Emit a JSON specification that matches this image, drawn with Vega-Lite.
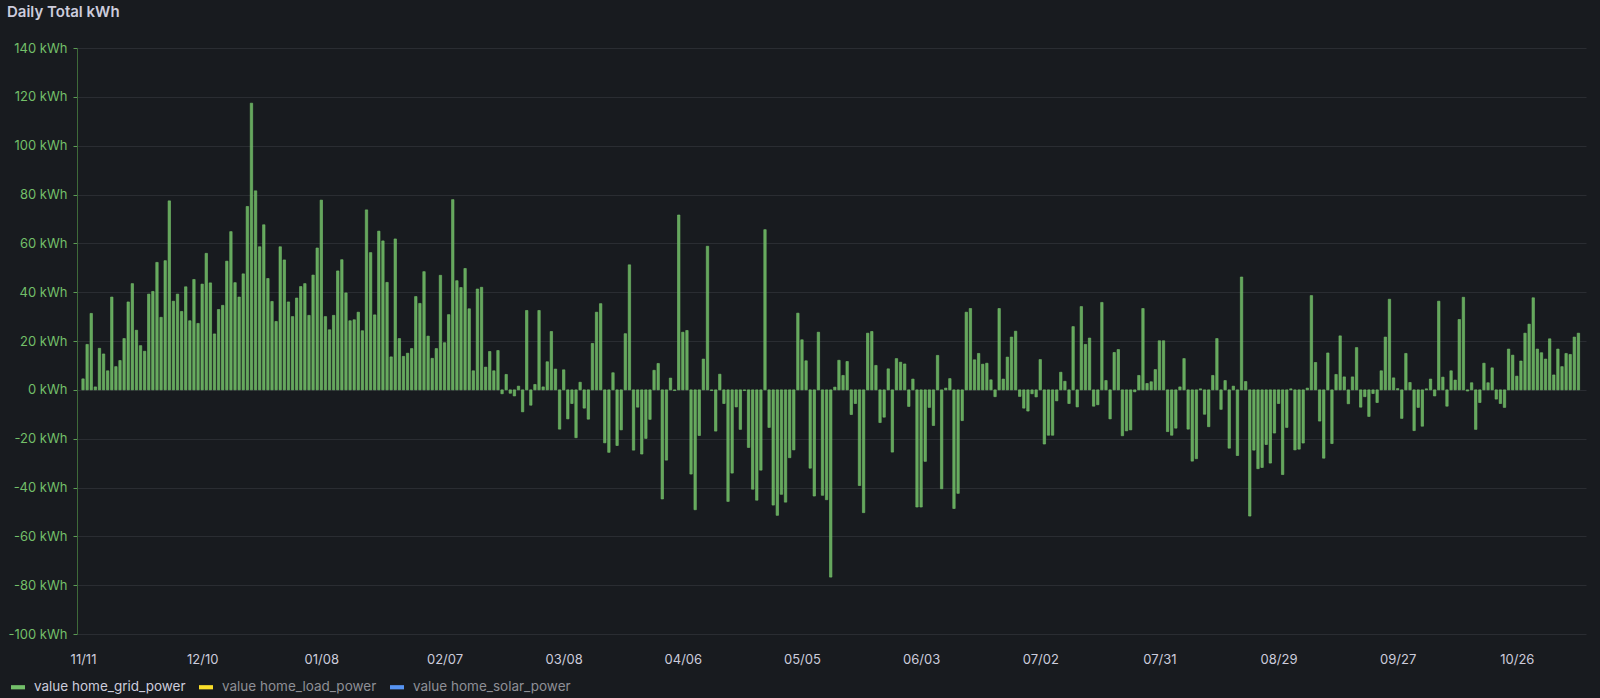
{
  "$schema": "https://vega.github.io/schema/vega-lite/v6.json",
  "width": 1509,
  "height": 586,
  "autosize": {"type": "none"},
  "padding": {"left": 77, "top": 48, "right": 14, "bottom": 64},
  "background": "#181b1f",
  "title": {"text": "Daily Total kWh", "anchor": "start", "frame": "group", "dx": -70, "offset": 22, "font": "Inter", "fontSize": 15, "fontWeight": 600, "color": "#ccccdc"},
  "config": {"view": {"stroke": null}},
  "data": {"values": [
    {"t":"2024-11-11","v":4.5},{"t":"2024-11-12","v":18.6},{"t":"2024-11-13","v":31.3},{"t":"2024-11-14","v":1.2},{"t":"2024-11-15","v":17},{"t":"2024-11-16","v":14.7},{"t":"2024-11-17","v":7.8},{"t":"2024-11-18","v":38},{"t":"2024-11-19","v":9.5},{"t":"2024-11-20","v":12},
    {"t":"2024-11-21","v":21},{"t":"2024-11-22","v":36},{"t":"2024-11-23","v":43.5},{"t":"2024-11-24","v":24.4},{"t":"2024-11-25","v":18.1},{"t":"2024-11-26","v":15.8},{"t":"2024-11-27","v":39.2},{"t":"2024-11-28","v":40.3},{"t":"2024-11-29","v":52.2},{"t":"2024-11-30","v":29.7},
    {"t":"2024-12-01","v":52.9},{"t":"2024-12-02","v":77.4},{"t":"2024-12-03","v":36.3},{"t":"2024-12-04","v":39.2},{"t":"2024-12-05","v":32.1},{"t":"2024-12-06","v":42.2},{"t":"2024-12-07","v":28.3},{"t":"2024-12-08","v":45.2},{"t":"2024-12-09","v":27.2},{"t":"2024-12-10","v":43.3},
    {"t":"2024-12-11","v":55.9},{"t":"2024-12-12","v":43.8},{"t":"2024-12-13","v":22.9},{"t":"2024-12-14","v":32.9},{"t":"2024-12-15","v":34.6},{"t":"2024-12-16","v":52.7},{"t":"2024-12-17","v":64.8},{"t":"2024-12-18","v":43.9},{"t":"2024-12-19","v":38},{"t":"2024-12-20","v":47.5},
    {"t":"2024-12-21","v":75.1},{"t":"2024-12-22","v":117.4},{"t":"2024-12-23","v":81.5},{"t":"2024-12-24","v":58.6},{"t":"2024-12-25","v":67.6},{"t":"2024-12-26","v":45.6},{"t":"2024-12-27","v":36.2},{"t":"2024-12-28","v":28},{"t":"2024-12-29","v":58.6},{"t":"2024-12-30","v":53.2},{"t":"2024-12-31","v":36},
    {"t":"2025-01-01","v":30},{"t":"2025-01-02","v":37.6},{"t":"2025-01-03","v":42.3},{"t":"2025-01-04","v":43.5},{"t":"2025-01-05","v":30.5},{"t":"2025-01-06","v":47},{"t":"2025-01-07","v":58.1},{"t":"2025-01-08","v":77.7},{"t":"2025-01-09","v":30},{"t":"2025-01-10","v":24.6},
    {"t":"2025-01-11","v":30.5},{"t":"2025-01-12","v":48.7},{"t":"2025-01-13","v":53.3},{"t":"2025-01-14","v":39.7},{"t":"2025-01-15","v":28.3},{"t":"2025-01-16","v":28.7},{"t":"2025-01-17","v":31.8},{"t":"2025-01-18","v":24.2},{"t":"2025-01-19","v":73.7},{"t":"2025-01-20","v":56.2},
    {"t":"2025-01-21","v":30.7},{"t":"2025-01-22","v":65},{"t":"2025-01-23","v":61},{"t":"2025-01-24","v":44},{"t":"2025-01-25","v":13.5},{"t":"2025-01-26","v":61.8},{"t":"2025-01-27","v":21},{"t":"2025-01-28","v":13.7},{"t":"2025-01-29","v":15},{"t":"2025-01-30","v":16.9},{"t":"2025-01-31","v":38.2},
    {"t":"2025-02-01","v":35.4},{"t":"2025-02-02","v":48.4},{"t":"2025-02-03","v":22},{"t":"2025-02-04","v":12.9},{"t":"2025-02-05","v":16.9},{"t":"2025-02-06","v":46.9},{"t":"2025-02-07","v":19.3},{"t":"2025-02-08","v":30.8},{"t":"2025-02-09","v":77.9},{"t":"2025-02-10","v":44.7},
    {"t":"2025-02-11","v":41.9},{"t":"2025-02-12","v":49.7},{"t":"2025-02-13","v":33.2},{"t":"2025-02-14","v":7.8},{"t":"2025-02-15","v":41.3},{"t":"2025-02-16","v":42},{"t":"2025-02-17","v":9.3},{"t":"2025-02-18","v":15.7},{"t":"2025-02-19","v":7.8},{"t":"2025-02-20","v":16.1},
    {"t":"2025-02-21","v":-1.6},{"t":"2025-02-22","v":6.3},{"t":"2025-02-23","v":-1.4},{"t":"2025-02-24","v":-2.5},{"t":"2025-02-25","v":1.5},{"t":"2025-02-26","v":-9},{"t":"2025-02-27","v":32.5},{"t":"2025-02-28","v":-6.3},
    {"t":"2025-03-01","v":2.2},{"t":"2025-03-02","v":32.5},{"t":"2025-03-03","v":1.2},{"t":"2025-03-04","v":11.5},{"t":"2025-03-05","v":23.9},{"t":"2025-03-06","v":8.5},{"t":"2025-03-07","v":-16.1},{"t":"2025-03-08","v":8.2},{"t":"2025-03-09","v":-11.9},{"t":"2025-03-10","v":-5.6},
    {"t":"2025-03-11","v":-19.6},{"t":"2025-03-12","v":3.1},{"t":"2025-03-13","v":-7.5},{"t":"2025-03-14","v":-12},{"t":"2025-03-15","v":19},{"t":"2025-03-16","v":31.8},{"t":"2025-03-17","v":35.3},{"t":"2025-03-18","v":-21.7},{"t":"2025-03-19","v":-25.6},{"t":"2025-03-20","v":7},
    {"t":"2025-03-21","v":-22.8},{"t":"2025-03-22","v":-16.4},{"t":"2025-03-23","v":23},{"t":"2025-03-24","v":51.2},{"t":"2025-03-25","v":-24.7},{"t":"2025-03-26","v":-7.1},{"t":"2025-03-27","v":-26.3},{"t":"2025-03-28","v":-19.9},{"t":"2025-03-29","v":-12.1},{"t":"2025-03-30","v":8},{"t":"2025-03-31","v":10.8},
    {"t":"2025-04-01","v":-44.7},{"t":"2025-04-02","v":-28.8},{"t":"2025-04-03","v":4.8},{"t":"2025-04-04","v":-0.3},{"t":"2025-04-05","v":71.6},{"t":"2025-04-06","v":23.6},{"t":"2025-04-07","v":24.3},{"t":"2025-04-08","v":-34.5},{"t":"2025-04-09","v":-49.1},{"t":"2025-04-10","v":-18.7},
    {"t":"2025-04-11","v":12.6},{"t":"2025-04-12","v":58.8},{"t":"2025-04-13","v":-0.3},{"t":"2025-04-14","v":-16.9},{"t":"2025-04-15","v":6.4},{"t":"2025-04-16","v":-5.6},{"t":"2025-04-17","v":-45.7},{"t":"2025-04-18","v":-34.1},{"t":"2025-04-19","v":-7},{"t":"2025-04-20","v":-16.2},
    {"t":"2025-04-21","v":-0.3},{"t":"2025-04-22","v":-23.6},{"t":"2025-04-23","v":-40.7},{"t":"2025-04-24","v":-45.2},{"t":"2025-04-25","v":-32.9},{"t":"2025-04-26","v":65.6},{"t":"2025-04-27","v":-15.4},{"t":"2025-04-28","v":-47.2},{"t":"2025-04-29","v":-51.4},{"t":"2025-04-30","v":-42.8},
    {"t":"2025-05-01","v":-46},{"t":"2025-05-02","v":-27.8},{"t":"2025-05-03","v":-24.6},{"t":"2025-05-04","v":31.4},{"t":"2025-05-05","v":20.5},{"t":"2025-05-06","v":11.9},{"t":"2025-05-07","v":-32.1},{"t":"2025-05-08","v":-43.5},{"t":"2025-05-09","v":23.6},{"t":"2025-05-10","v":-43.2},
    {"t":"2025-05-11","v":-45},{"t":"2025-05-12","v":-76.7},{"t":"2025-05-13","v":1.1},{"t":"2025-05-14","v":12.1},{"t":"2025-05-15","v":5.9},{"t":"2025-05-16","v":11.6},{"t":"2025-05-17","v":-10.1},{"t":"2025-05-18","v":-5.6},{"t":"2025-05-19","v":-39.2},{"t":"2025-05-20","v":-50.3},
    {"t":"2025-05-21","v":23.2},{"t":"2025-05-22","v":23.9},{"t":"2025-05-23","v":10},{"t":"2025-05-24","v":-13.4},{"t":"2025-05-25","v":-11.2},{"t":"2025-05-26","v":8.6},{"t":"2025-05-27","v":-25.5},{"t":"2025-05-28","v":12.8},{"t":"2025-05-29","v":11.3},{"t":"2025-05-30","v":10.6},{"t":"2025-05-31","v":-6.8},
    {"t":"2025-06-01","v":4.4},{"t":"2025-06-02","v":-48},{"t":"2025-06-03","v":-48},{"t":"2025-06-04","v":-29.3},{"t":"2025-06-05","v":-7.2},{"t":"2025-06-06","v":-14.6},{"t":"2025-06-07","v":14.1},{"t":"2025-06-08","v":-40.5},{"t":"2025-06-09","v":0.7},{"t":"2025-06-10","v":4.6},
    {"t":"2025-06-11","v":-48.6},{"t":"2025-06-12","v":-42.4},{"t":"2025-06-13","v":-12.6},{"t":"2025-06-14","v":31.8},{"t":"2025-06-15","v":33.3},{"t":"2025-06-16","v":12.3},{"t":"2025-06-17","v":14.9},{"t":"2025-06-18","v":10.5},{"t":"2025-06-19","v":10.9},{"t":"2025-06-20","v":4.1},
    {"t":"2025-06-21","v":-2.8},{"t":"2025-06-22","v":33.3},{"t":"2025-06-23","v":4.4},{"t":"2025-06-24","v":13.4},{"t":"2025-06-25","v":21.6},{"t":"2025-06-26","v":24},{"t":"2025-06-27","v":-2.7},{"t":"2025-06-28","v":-7.5},{"t":"2025-06-29","v":-8.7},{"t":"2025-06-30","v":-1.6},
    {"t":"2025-07-01","v":-2.9},{"t":"2025-07-02","v":12.4},{"t":"2025-07-03","v":-22.2},{"t":"2025-07-04","v":-18.6},{"t":"2025-07-05","v":-18.6},{"t":"2025-07-06","v":-4.5},{"t":"2025-07-07","v":7.2},{"t":"2025-07-08","v":3.5},{"t":"2025-07-09","v":-5.6},{"t":"2025-07-10","v":25.9},
    {"t":"2025-07-11","v":-7},{"t":"2025-07-12","v":34.1},{"t":"2025-07-13","v":18.6},{"t":"2025-07-14","v":21.2},{"t":"2025-07-15","v":-6.7},{"t":"2025-07-16","v":-6.1},{"t":"2025-07-17","v":35.8},{"t":"2025-07-18","v":3.8},{"t":"2025-07-19","v":-11.9},{"t":"2025-07-20","v":15.3},
    {"t":"2025-07-21","v":16.5},{"t":"2025-07-22","v":-18.8},{"t":"2025-07-23","v":-16.8},{"t":"2025-07-24","v":-16.4},{"t":"2025-07-25","v":-0.8},{"t":"2025-07-26","v":5.9},{"t":"2025-07-27","v":33.3},{"t":"2025-07-28","v":2.6},{"t":"2025-07-29","v":3.3},{"t":"2025-07-30","v":8.3},{"t":"2025-07-31","v":20.1},
    {"t":"2025-08-01","v":20.1},{"t":"2025-08-02","v":-17.1},{"t":"2025-08-03","v":-18.6},{"t":"2025-08-04","v":-15.7},{"t":"2025-08-05","v":1.2},{"t":"2025-08-06","v":12.8},{"t":"2025-08-07","v":-16.1},{"t":"2025-08-08","v":-29.2},{"t":"2025-08-09","v":-28.2},{"t":"2025-08-10","v":0.4},
    {"t":"2025-08-11","v":-10},{"t":"2025-08-12","v":-15.1},{"t":"2025-08-13","v":5.9},{"t":"2025-08-14","v":21},{"t":"2025-08-15","v":-8},{"t":"2025-08-16","v":3.8},{"t":"2025-08-17","v":-23.9},{"t":"2025-08-18","v":1.5},{"t":"2025-08-19","v":-26.9},{"t":"2025-08-20","v":46.2},
    {"t":"2025-08-21","v":3.4},{"t":"2025-08-22","v":-51.7},{"t":"2025-08-23","v":-24.7},{"t":"2025-08-24","v":-32.3},{"t":"2025-08-25","v":-31.8},{"t":"2025-08-26","v":-22.4},{"t":"2025-08-27","v":-30},{"t":"2025-08-28","v":-17.7},{"t":"2025-08-29","v":-5.6},{"t":"2025-08-30","v":-34.7},{"t":"2025-08-31","v":-15.4},
    {"t":"2025-09-01","v":0.4},{"t":"2025-09-02","v":-24.6},{"t":"2025-09-03","v":-24.3},{"t":"2025-09-04","v":-21.8},{"t":"2025-09-05","v":0.7},{"t":"2025-09-06","v":38.6},{"t":"2025-09-07","v":11.2},{"t":"2025-09-08","v":-12.8},{"t":"2025-09-09","v":-28},{"t":"2025-09-10","v":15.1},
    {"t":"2025-09-11","v":-22},{"t":"2025-09-12","v":6.3},{"t":"2025-09-13","v":22.1},{"t":"2025-09-14","v":5.3},{"t":"2025-09-15","v":-5.7},{"t":"2025-09-16","v":5.3},{"t":"2025-09-17","v":17.3},{"t":"2025-09-18","v":-7.1},{"t":"2025-09-19","v":-2.8},{"t":"2025-09-20","v":-10.9},
    {"t":"2025-09-21","v":-1.5},{"t":"2025-09-22","v":-5.2},{"t":"2025-09-23","v":7.8},{"t":"2025-09-24","v":21.6},{"t":"2025-09-25","v":37.1},{"t":"2025-09-26","v":4.9},{"t":"2025-09-27","v":0.5},{"t":"2025-09-28","v":-11.7},{"t":"2025-09-29","v":14.9},{"t":"2025-09-30","v":3},
    {"t":"2025-10-01","v":-16.7},{"t":"2025-10-02","v":-7.2},{"t":"2025-10-03","v":-14.9},{"t":"2025-10-04","v":0.4},{"t":"2025-10-05","v":4.4},{"t":"2025-10-06","v":-2.5},{"t":"2025-10-07","v":36.3},{"t":"2025-10-08","v":5.2},{"t":"2025-10-09","v":-6.7},{"t":"2025-10-10","v":7.8},
    {"t":"2025-10-11","v":4},{"t":"2025-10-12","v":28.8},{"t":"2025-10-13","v":37.9},{"t":"2025-10-14","v":-0.5},{"t":"2025-10-15","v":2.9},{"t":"2025-10-16","v":-16.2},{"t":"2025-10-17","v":-5.2},{"t":"2025-10-18","v":10.9},{"t":"2025-10-19","v":2.9},{"t":"2025-10-20","v":9},
    {"t":"2025-10-21","v":-3.8},{"t":"2025-10-22","v":-5.6},{"t":"2025-10-23","v":-7.2},{"t":"2025-10-24","v":16.7},{"t":"2025-10-25","v":14.2},{"t":"2025-10-26","v":5.6},{"t":"2025-10-27","v":11.8},{"t":"2025-10-28","v":23.2},{"t":"2025-10-29","v":26.9},{"t":"2025-10-30","v":37.7},{"t":"2025-10-31","v":16.7},
    {"t":"2025-11-01","v":15.2},{"t":"2025-11-02","v":12.6},{"t":"2025-11-03","v":20.9},{"t":"2025-11-04","v":6.1},{"t":"2025-11-05","v":16.7},{"t":"2025-11-06","v":9.5},{"t":"2025-11-07","v":14.9},{"t":"2025-11-08","v":14.5},{"t":"2025-11-09","v":21.6},{"t":"2025-11-10","v":23.2}
  ]},
  "mark": {"type": "bar", "width": 2.4, "fillOpacity": 0.85, "stroke": "#73bf69", "strokeWidth": 0.6},
  "encoding": {
    "x": {
      "field": "t", "type": "temporal",
      "scale": {"type": "utc", "domain": [{"year": 2024, "month": 11, "date": 10, "hours": 18, "utc": true}, {"year": 2025, "month": 11, "date": 10, "hours": 15, "utc": true}]},
      "axis": {
        "title": null, "grid": false, "domain": false, "ticks": false, "tickSize": 0, "labelPadding": 19,
        "format": "%m/%d", "labelFont": "Inter", "labelFontSize": 13, "labelColor": "#ccccdc", "labelFlush": false, "labelOverlap": false,
        "values": [
          {"year": 2024, "month": 11, "date": 11, "utc": true},
          {"year": 2024, "month": 12, "date": 10, "utc": true},
          {"year": 2025, "month": 1, "date": 8, "utc": true},
          {"year": 2025, "month": 2, "date": 7, "utc": true},
          {"year": 2025, "month": 3, "date": 8, "utc": true},
          {"year": 2025, "month": 4, "date": 6, "utc": true},
          {"year": 2025, "month": 5, "date": 5, "utc": true},
          {"year": 2025, "month": 6, "date": 3, "utc": true},
          {"year": 2025, "month": 7, "date": 2, "utc": true},
          {"year": 2025, "month": 7, "date": 31, "utc": true},
          {"year": 2025, "month": 8, "date": 29, "utc": true},
          {"year": 2025, "month": 9, "date": 27, "utc": true},
          {"year": 2025, "month": 10, "date": 26, "utc": true}
        ]
      }
    },
    "y": {
      "field": "v", "type": "quantitative",
      "scale": {"domain": [-100, 140], "nice": false},
      "axis": {
        "title": null, "values": [-100, -80, -60, -40, -20, 0, 20, 40, 60, 80, 100, 120, 140],
        "labelExpr": "datum.value + ' kWh'", "labelFont": "Inter", "labelFontSize": 13, "labelColor": "#73bf69",
        "tickSize": 4, "tickColor": "#5c9a55", "labelPadding": 6, "domainColor": "#3e6a39",
        "gridColor": "#2a2d32", "gridWidth": 1
      }
    },
    "color": {
      "datum": "value home_grid_power",
      "scale": {"domain": ["value home_grid_power", "value home_load_power", "value home_solar_power"], "range": ["#73bf69", "#fade2a", "#5794f2"]},
      "legend": {
        "title": null, "orient": "none", "legendX": -66, "legendY": 632, "direction": "horizontal",
        "symbolType": "M-1,-0.3L1,-0.3L1,0.3L-1,0.3Z", "symbolSize": 196, "symbolStrokeWidth": 0, "symbolOpacity": 1,
        "labelFont": "Inter", "labelFontSize": 13.5, "labelOffset": 9, "columnPadding": 13,
        "labelColor": {"expr": "datum.value === 'value home_grid_power' ? '#ccccdc' : '#8e8f96'"}
      }
    }
  }
}
